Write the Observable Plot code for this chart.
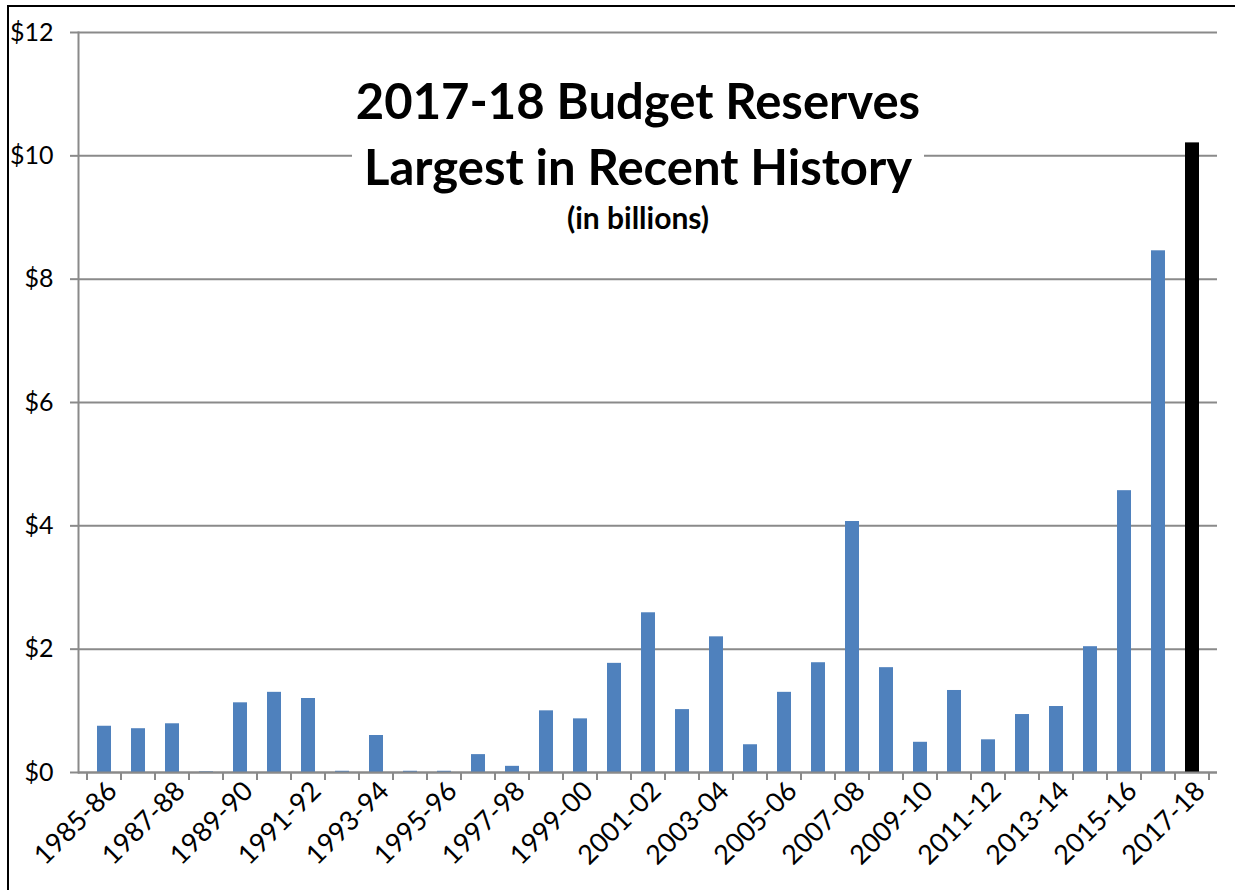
<!DOCTYPE html>
<html>
<head>
<meta charset="utf-8">
<script src="https://cdn.jsdelivr.net/npm/d3@7"></script>
<script src="https://cdn.jsdelivr.net/npm/@observablehq/plot@0.6"></script>
<style>
  html, body { margin: 0; padding: 0; background: #fff; }
  #wrap { position: relative; width: 1235px; height: 890px; overflow: hidden; font-family: Lato, "Open Sans", sans-serif; }
  #frame { position: absolute; left: 7px; top: 5px; width: 1240px; height: 900px; border-top: 2px solid #000; border-left: 2px solid #000; pointer-events: none; }
  #title { position: absolute; left: 352px; top: 62px; width: 572px; height: 186px; background: #fff; text-align: center; color: #000; }
  #title .t1 { position: absolute; left: -20px; right: -20px; top: 10px; font-size: 49px; font-weight: 700; line-height: 56px; white-space: nowrap; }
  #title .t2 { position: absolute; left: -20px; right: -20px; top: 76px; font-size: 49px; font-weight: 700; line-height: 56px; white-space: nowrap; }
  #title .t3 { position: absolute; left: 0; right: 0; top: 138px; font-size: 30px; font-weight: 700; line-height: 34px; white-space: nowrap; }
</style>
</head>
<body>
<div id="wrap">
  <div id="chart"></div>
  <div id="title">
    <div class="t1">2017-18 Budget Reserves</div>
    <div class="t2">Largest in Recent History</div>
    <div class="t3">(in billions)</div>
  </div>
  <div id="frame"></div>
</div>
<script>
const categories = [
  "1985-86","1986-87","1987-88","1988-89","1989-90","1990-91","1991-92","1992-93",
  "1993-94","1994-95","1995-96","1996-97","1997-98","1998-99","1999-00","2000-01",
  "2001-02","2002-03","2003-04","2004-05","2005-06","2006-07","2007-08","2008-09",
  "2009-10","2010-11","2011-12","2012-13","2013-14","2014-15","2015-16","2016-17","2017-18"
];
const reserves = [
  0.75, 0.71, 0.79, 0.01, 1.13, 1.30, 1.20, 0.02,
  0.60, 0.02, 0.02, 0.29, 0.10, 1.00, 0.87, 1.77,
  2.59, 1.02, 2.20, 0.45, 1.30, 1.78, 4.07, 1.70,
  0.49, 1.33, 0.53, 0.94, 1.07, 2.04, 4.57, 8.46, 10.21
];
const highlight = "2017-18";
const yTicks = [0, 2, 4, 6, 8, 10, 12];
const labeledCategories = categories.filter((d, i) => i % 2 === 0);

const data = categories.map((c, i) => ({category: c, value: reserves[i]}));

const gridColor = "#8a8a8a";

const plot = Plot.plot({
  width: 1235,
  height: 890,
  marginLeft: 78,
  marginRight: 18,
  marginTop: 32,
  marginBottom: 118,
  style: {fontFamily: "Lato, 'Open Sans', sans-serif", fontSize: "25px", color: "#000", background: "transparent"},
  x: {domain: categories, paddingInner: 0.6, paddingOuter: 0.3, label: null},
  y: {domain: [0, 12], label: null},
  marks: [
    Plot.gridY(yTicks, {stroke: gridColor, strokeOpacity: 1, strokeWidth: 2}),
    Plot.axisY(yTicks, {tickFormat: d => "$" + d, tickSize: 8, tickPadding: 17, stroke: gridColor, strokeWidth: 2, fill: "#000", fontSize: 25, label: null}),
    Plot.axisX(labeledCategories, {tickRotate: -45, tickSize: 0, tickPadding: 14, dx: 8, fill: "#000", fontSize: 27, label: null}),
    Plot.barY(data, {filter: d => d.category !== highlight, x: "category", y: "value", fill: "#4F81BD"}),
    Plot.barY(data, {filter: d => d.category === highlight, x: "category", y: "value", fill: "#000"}),
    Plot.ruleY([0], {stroke: gridColor, strokeWidth: 2}),
    Plot.frame({anchor: "left", stroke: gridColor, strokeWidth: 2})
  ]
});

document.getElementById("chart").appendChild(plot);

// category boundary tick marks below the baseline, from Plot's own scales
const xs = plot.scale("x");
const ys = plot.scale("y");
const y0 = ys.apply(0);
const half = (xs.step - xs.bandwidth) / 2;
const bounds = categories.map(c => xs.apply(c) - half);
bounds.push(xs.apply(categories[categories.length - 1]) + xs.bandwidth + half);
d3.select(plot).append("g")
  .attr("stroke", gridColor)
  .attr("stroke-width", 2)
  .selectAll("line")
  .data(bounds)
  .join("line")
  .attr("x1", d => d).attr("x2", d => d)
  .attr("y1", y0).attr("y2", y0 + 8);
</script>
</body>
</html>
